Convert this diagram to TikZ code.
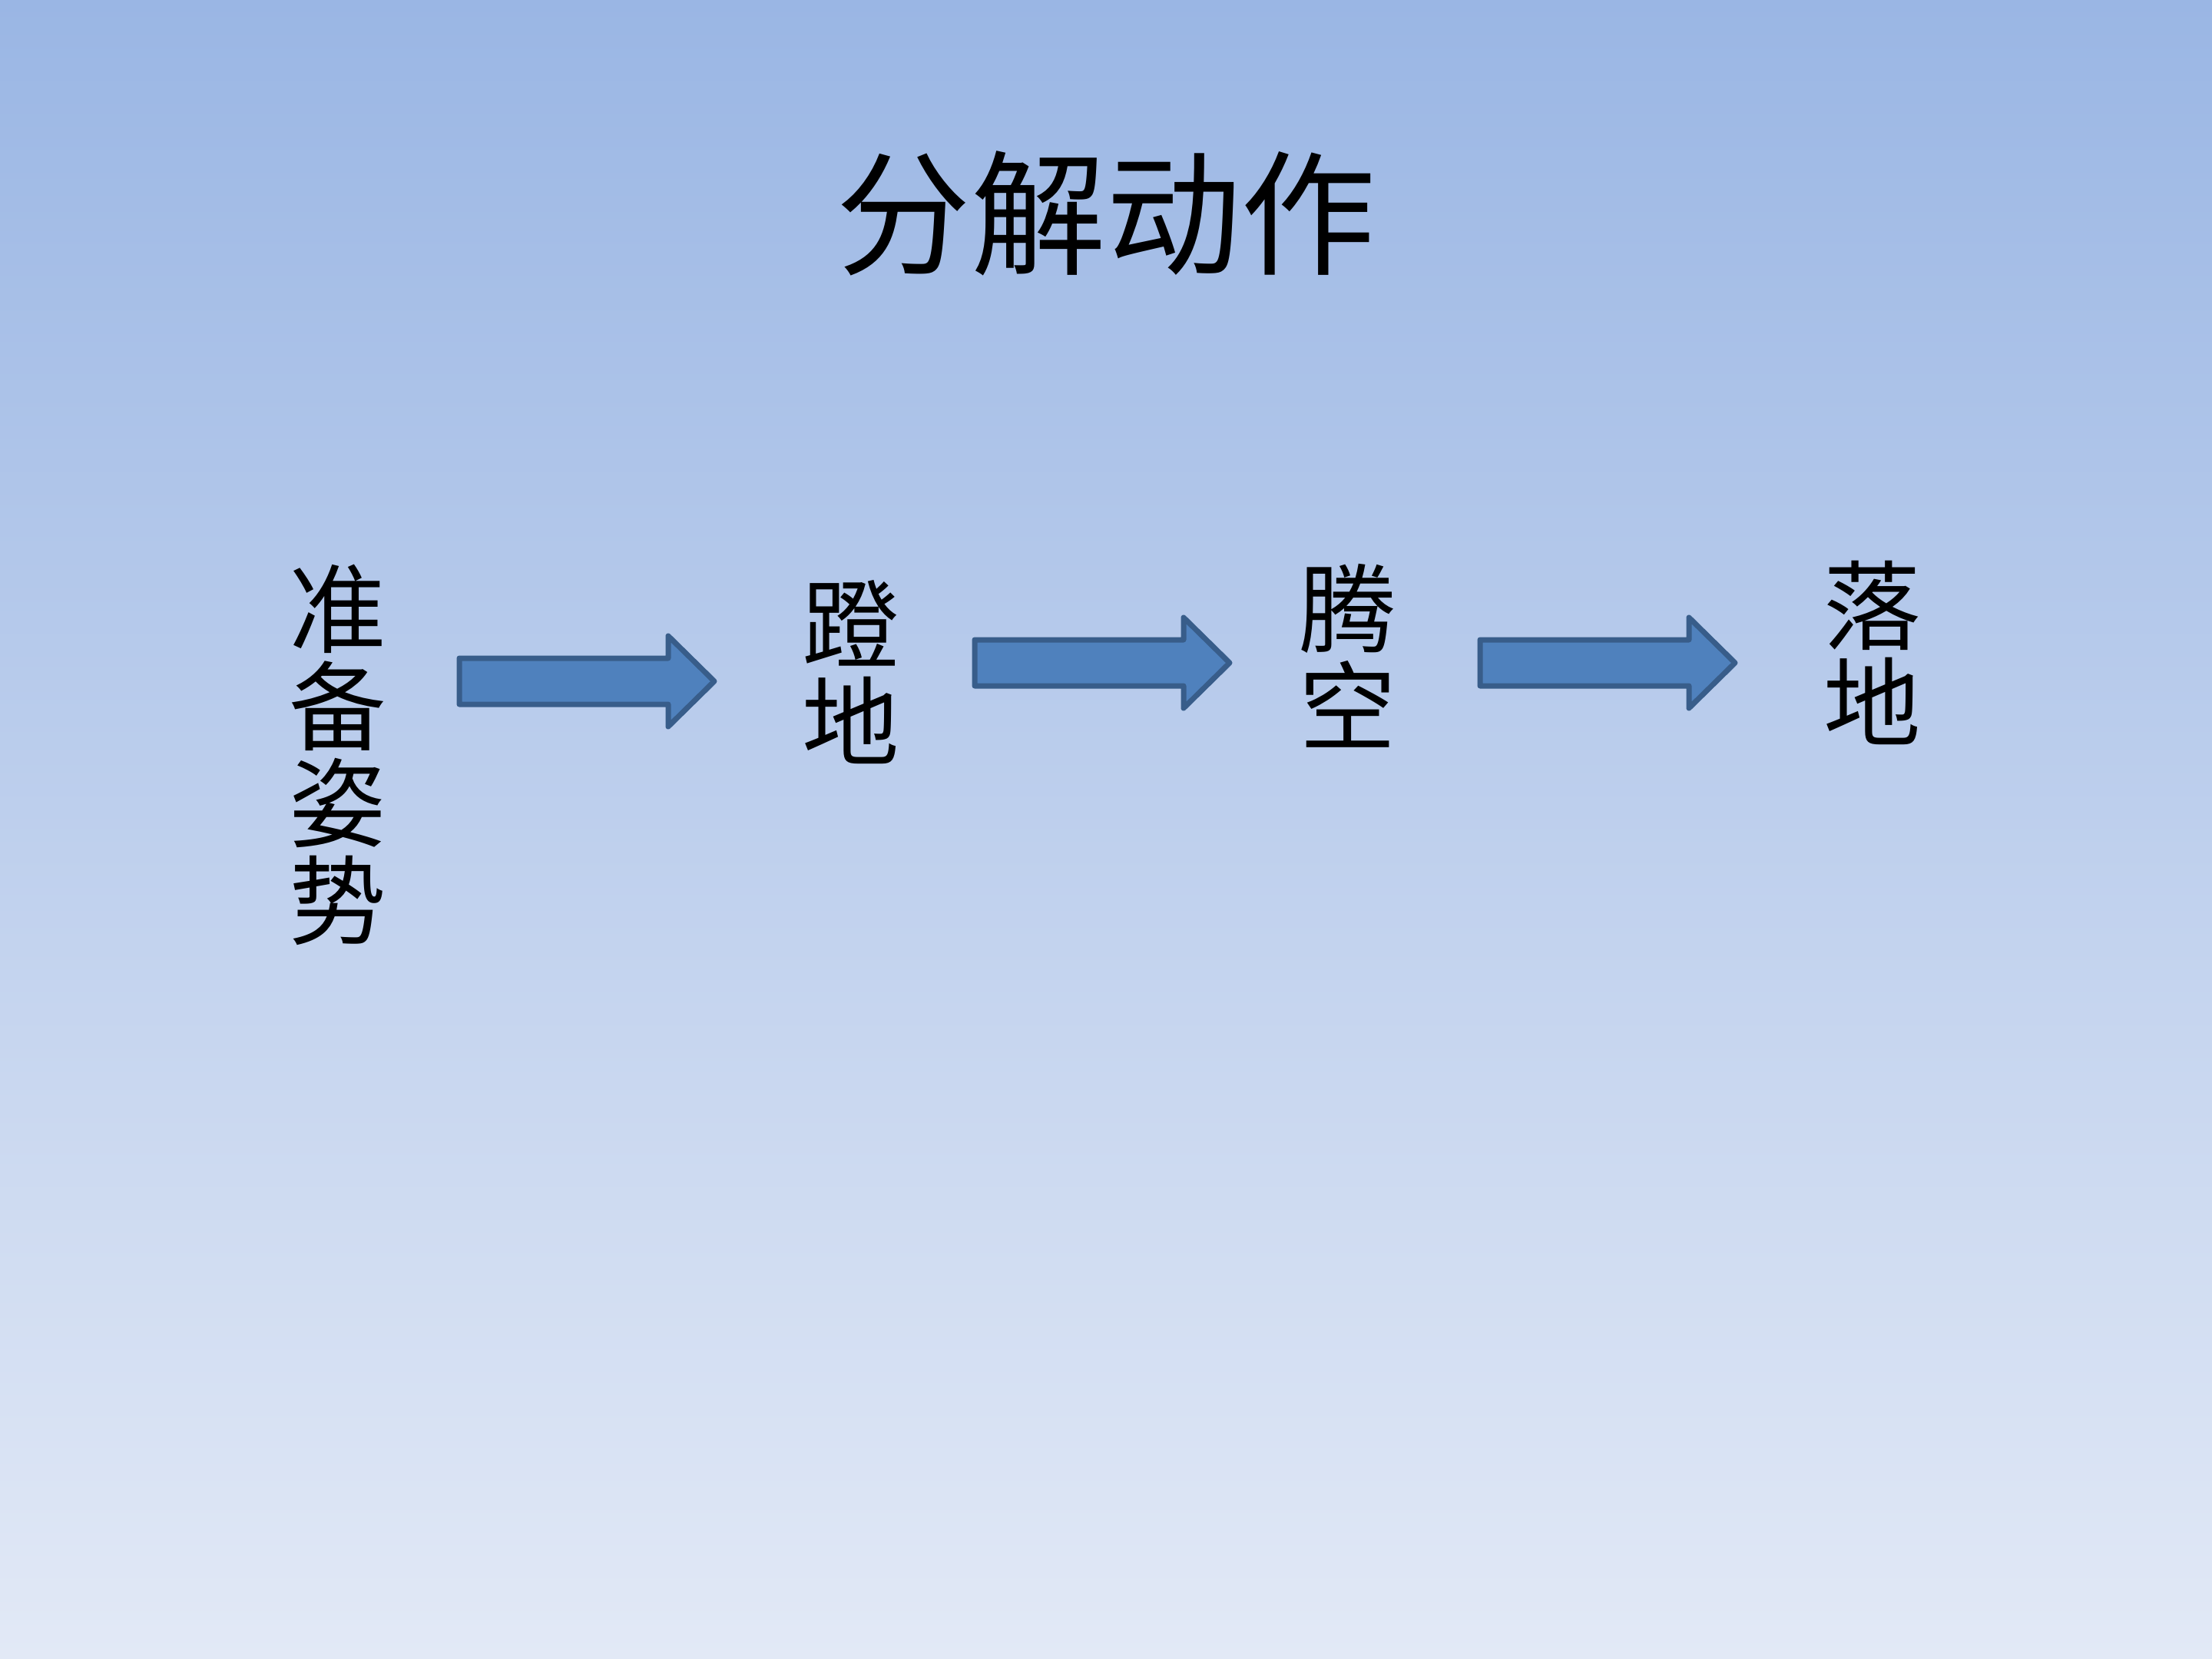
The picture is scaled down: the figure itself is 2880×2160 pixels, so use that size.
\documentclass[tikz,border=0pt]{standalone}
\usepackage{fontspec}
\newfontfamily\cjk{Noto Sans CJK SC}
\definecolor{bgtop}{RGB}{154,182,228}
\definecolor{bgbot}{RGB}{226,233,246}
\definecolor{arrowfill}{RGB}{79,129,189}
\definecolor{arrowline}{RGB}{56,93,138}
\tikzset{
  titletext/.style={inner sep=0pt, font=\cjk\fontsize{50}{50}\selectfont},
  vtext/.style={inner sep=0pt, align=center, font=\cjk\fontsize{36}{36}\selectfont},
  barrow/.style={fill=arrowfill, draw=arrowline, line width=0.07cm, line join=round},
}
\newcommand{\blockarrow}[2]{%
  \draw[barrow] (#1,#2-30) -- (#1+272,#2-30) -- (#1+272,#2-59) -- (#1+332,#2)
    -- (#1+272,#2+59) -- (#1+272,#2+30) -- (#1,#2+30) -- cycle;}
\begin{document}
\begin{tikzpicture}[x=0.01cm,y=-0.01cm]
\useasboundingbox (0,0) rectangle (2880,2160);
\shade[top color=bgtop, bottom color=bgbot] (0,0) rectangle (2880,2160);
\node[titletext] (title) at (1440,278) {分解动作};
\node[vtext] (s1) at (440,983) {准\\备\\姿\\势};
\node[vtext] (s2) at (1108,875) {蹬\\地};
\node[vtext] (s3) at (1755,854) {腾\\空};
\node[vtext] (s4) at (2438,850) {落\\地};
\blockarrow{598}{887}
\blockarrow{1269}{863}
\blockarrow{1927}{863}
\end{tikzpicture}
\end{document}
